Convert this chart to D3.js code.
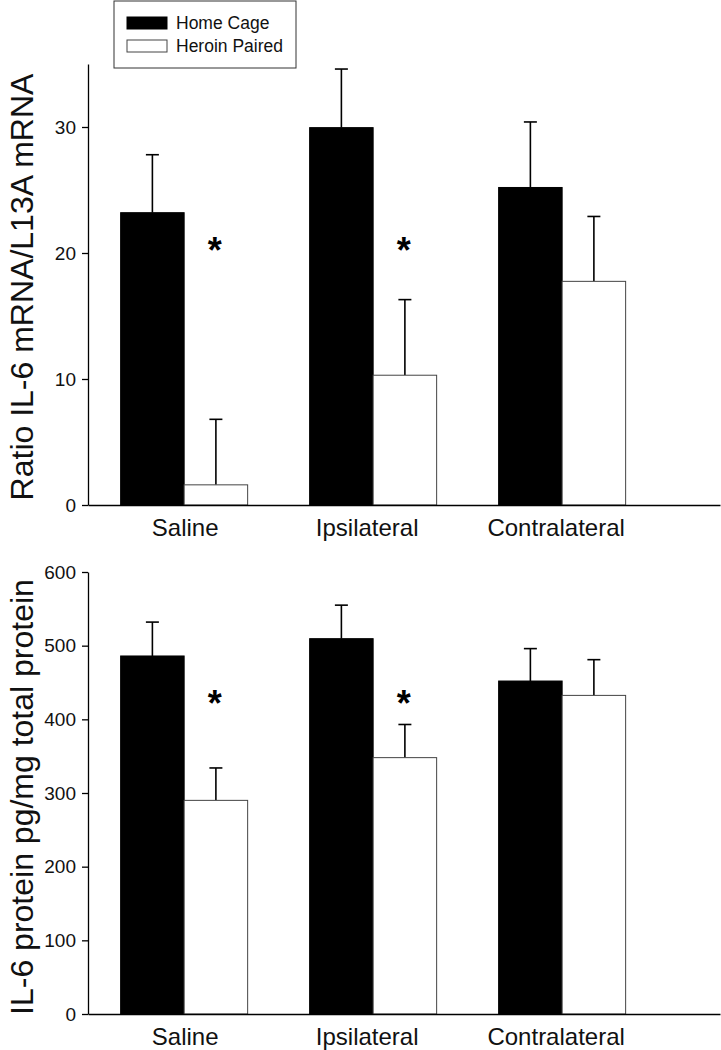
<!DOCTYPE html>
<html>
<head>
<meta charset="utf-8">
<script src="https://cdn.jsdelivr.net/npm/d3@7"></script>
<style>
  html, body { margin: 0; padding: 0; background: #fff; }
  svg { display: block; font-family: "Liberation Sans", Arial, sans-serif; }
</style>
</head>
<body>
<svg id="chart" width="721" height="1050"></svg>
<script>
// ---- data ----
const categories = ["Saline", "Ipsilateral", "Contralateral"];
const seriesNames = ["Home Cage", "Heroin Paired"];

const mrnaHomeCage = [23.2, 29.95, 25.2];
const mrnaHomeCageErr = [4.6, 4.65, 5.2];
const mrnaHeroin = [1.6, 10.3, 17.75];
const mrnaHeroinErr = [5.2, 6.0, 5.15];
const mrnaSig = [20.8, 20.8, null];
const mrnaTicks = [0, 10, 20, 30];

const proteinHomeCage = [486, 509.5, 452];
const proteinHomeCageErr = [46, 45.5, 44];
const proteinHeroin = [290, 348, 432.5];
const proteinHeroinErr = [44, 45, 48.5];
const proteinSig = [431, 431, null];
const proteinTicks = [0, 100, 200, 300, 400, 500, 600];

// ---- layout ----
const svg = d3.select("#chart");
const axisX0 = 88, axisX1 = 720;

const x0 = d3.scaleBand().domain(categories).range([axisX0, axisX1])
  .paddingInner(0.328).paddingOuter(0.336).align(0.257);
const x1 = d3.scaleBand().domain(seriesNames).range([0, x0.bandwidth()]).padding(0);
const fills = d3.scaleOrdinal().domain(seriesNames).range(["#000", "#fff"]);
const strokes = d3.scaleOrdinal().domain(seriesNames).range(["#000", "#444"]);

function panel(opts) {
  const y = d3.scaleLinear().domain(opts.domain).range([opts.bottom, opts.top]);
  const g = svg.append("g");

  // y axis
  const ya = g.append("g").attr("transform", `translate(${axisX0},0)`)
    .call(d3.axisLeft(y).tickValues(opts.ticks).tickSize(6).tickPadding(6).tickSizeOuter(0));
  ya.select(".domain").attr("stroke", "#000").attr("stroke-width", 1.3);
  ya.selectAll(".tick line").attr("stroke", "#000").attr("stroke-width", 1.3);
  ya.selectAll(".tick text").attr("font-size", 19).attr("fill", "#111")
    .attr("font-family", "Liberation Sans, Arial, sans-serif");

  // y label
  g.append("text")
    .attr("transform", `translate(33,${opts.labelY}) rotate(-90)`)
    .attr("text-anchor", "middle")
    .attr("font-size", 32)
    .attr("fill", "#111")
    .text(opts.label);

  // bars
  const rows = categories.map((c, i) => ({
    cat: c,
    vals: [
      { s: seriesNames[0], v: opts.a[i], e: opts.ae[i] },
      { s: seriesNames[1], v: opts.b[i], e: opts.be[i] }
    ],
    sig: opts.sig[i]
  }));

  const grp = g.selectAll("g.grp").data(rows).join("g")
    .attr("class", "grp")
    .attr("transform", d => `translate(${x0(d.cat)},0)`);

  // error bars (upper only)
  const capHalf = 6.5;
  grp.selectAll("line.err").data(d => d.vals).join("line")
    .attr("class", "err")
    .attr("x1", d => x1(d.s) + x1.bandwidth() / 2)
    .attr("x2", d => x1(d.s) + x1.bandwidth() / 2)
    .attr("y1", d => y(d.v))
    .attr("y2", d => y(d.v + d.e))
    .attr("stroke", "#000").attr("stroke-width", 1.6);
  grp.selectAll("line.cap").data(d => d.vals).join("line")
    .attr("class", "cap")
    .attr("x1", d => x1(d.s) + x1.bandwidth() / 2 - capHalf)
    .attr("x2", d => x1(d.s) + x1.bandwidth() / 2 + capHalf)
    .attr("y1", d => y(d.v + d.e))
    .attr("y2", d => y(d.v + d.e))
    .attr("stroke", "#000").attr("stroke-width", 1.6);

  grp.selectAll("rect").data(d => d.vals).join("rect")
    .attr("x", d => x1(d.s))
    .attr("width", x1.bandwidth())
    .attr("y", d => y(d.v))
    .attr("height", d => y(0) - y(d.v))
    .attr("fill", d => fills(d.s))
    .attr("stroke", d => strokes(d.s))
    .attr("stroke-width", 1);

  // significance asterisks
  grp.filter(d => d.sig !== null).append("text")
    .attr("x", x1(seriesNames[1]) + x1.bandwidth() / 2 - 1)
    .attr("y", d => y(d.sig) + 20)
    .attr("text-anchor", "middle")
    .attr("font-size", 36)
    .attr("font-weight", "bold")
    .attr("fill", "#000")
    .text("*");

  // x axis
  const xa = g.append("g").attr("transform", `translate(0,${opts.bottom})`)
    .call(d3.axisBottom(x0).tickSize(0).tickPadding(14).tickSizeOuter(0));
  xa.select(".domain").attr("stroke", "#000").attr("stroke-width", 1.3);
  xa.selectAll(".tick text").attr("font-size", 24).attr("fill", "#111")
    .attr("dy", "0.71em")
    .attr("font-family", "Liberation Sans, Arial, sans-serif")
    .attr("dx", (d, i) => i === 0 ? 1 : -6);
}

panel({
  domain: [0, 35], top: 64, bottom: 505,
  ticks: mrnaTicks, label: "Ratio IL-6 mRNA/L13A mRNA", labelY: 287,
  a: mrnaHomeCage, ae: mrnaHomeCageErr, b: mrnaHeroin, be: mrnaHeroinErr, sig: mrnaSig
});
panel({
  domain: [0, 600], top: 572, bottom: 1014,
  ticks: proteinTicks, label: "IL-6 protein pg/mg total protein", labelY: 797,
  a: proteinHomeCage, ae: proteinHomeCageErr, b: proteinHeroin, be: proteinHeroinErr, sig: proteinSig
});

// ---- legend ----
const lg = svg.append("g").attr("transform", "translate(114,1)");
lg.append("rect").attr("x", 0).attr("y", 0).attr("width", 182).attr("height", 67)
  .attr("fill", "#fff").attr("stroke", "#333").attr("stroke-width", 1);
const li = lg.selectAll("g.li").data(seriesNames).join("g")
  .attr("class", "li")
  .attr("transform", (d, i) => `translate(13,${16 + i * 23})`);
li.append("rect").attr("width", 40).attr("height", 12)
  .attr("fill", d => fills(d)).attr("stroke", d => d === seriesNames[0] ? "#000" : "#444");
li.append("text").attr("x", 49).attr("y", 12).attr("font-size", 17.5).attr("fill", "#111").text(d => d);
</script>
</body>
</html>
